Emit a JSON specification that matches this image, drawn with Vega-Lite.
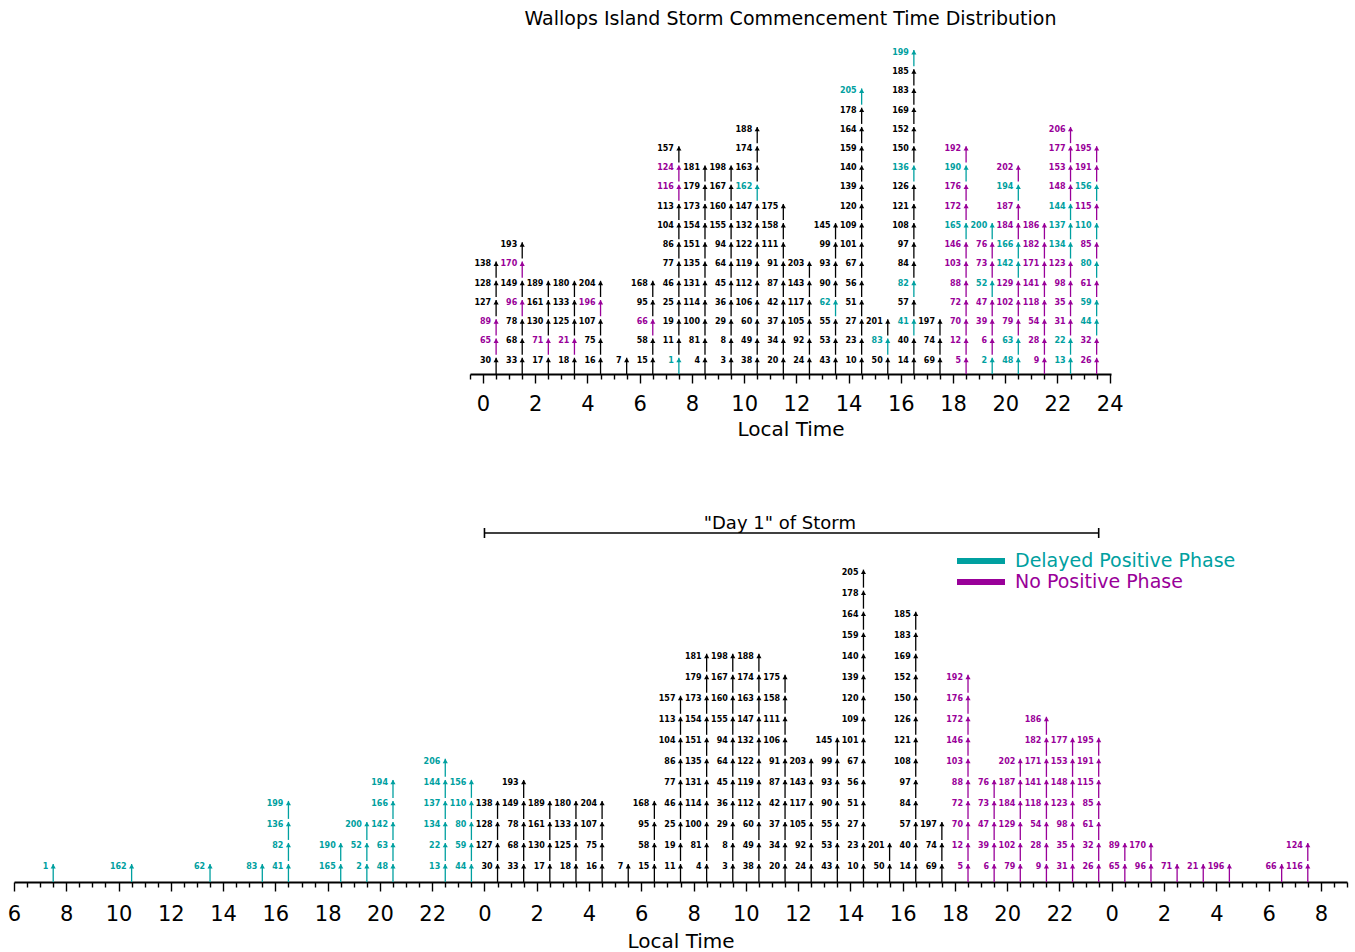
{
  "$schema": "https://vega.github.io/schema/vega-lite/v6.json",
  "background": "white",
  "padding": {"left": 7, "top": 10, "right": 5, "bottom": 5},
  "bounds": "flush",
  "spacing": 486,
  "config": {
    "view": {"stroke": null},
    "font": "DejaVu Sans",
    "axis": {
      "grid": false,
      "domainColor": "#000000",
      "domainWidth": 1.8,
      "tickColor": "#000000",
      "tickWidth": 1.4,
      "labelFont": "DejaVu Sans",
      "labelFontSize": 21,
      "labelColor": "#000000",
      "labelOverlap": false,
      "labelFlush": false,
      "labelPadding": 10,
      "titleFont": "DejaVu Sans",
      "titleFontSize": 20,
      "titleFontWeight": "normal",
      "titleColor": "#000000",
      "titlePadding": 5
    }
  },
  "resolve": {"scale": {"color": "shared"}, "legend": {"color": "shared"}},
  "datasets": {
    "commencement": [
      {"storm": 30, "hour": 0.5, "phase": "Normal"}, {"storm": 65, "hour": 0.5, "phase": "No Positive Phase"}, {"storm": 89, "hour": 0.5, "phase": "No Positive Phase"}, {"storm": 127, "hour": 0.5, "phase": "Normal"}, {"storm": 128, "hour": 0.5, "phase": "Normal"}, {"storm": 138, "hour": 0.5, "phase": "Normal"},
      {"storm": 33, "hour": 1.5, "phase": "Normal"}, {"storm": 68, "hour": 1.5, "phase": "Normal"}, {"storm": 78, "hour": 1.5, "phase": "Normal"}, {"storm": 96, "hour": 1.5, "phase": "No Positive Phase"}, {"storm": 149, "hour": 1.5, "phase": "Normal"}, {"storm": 170, "hour": 1.5, "phase": "No Positive Phase"}, {"storm": 193, "hour": 1.5, "phase": "Normal"},
      {"storm": 17, "hour": 2.5, "phase": "Normal"}, {"storm": 71, "hour": 2.5, "phase": "No Positive Phase"}, {"storm": 130, "hour": 2.5, "phase": "Normal"}, {"storm": 161, "hour": 2.5, "phase": "Normal"}, {"storm": 189, "hour": 2.5, "phase": "Normal"},
      {"storm": 18, "hour": 3.5, "phase": "Normal"}, {"storm": 21, "hour": 3.5, "phase": "No Positive Phase"}, {"storm": 125, "hour": 3.5, "phase": "Normal"}, {"storm": 133, "hour": 3.5, "phase": "Normal"}, {"storm": 180, "hour": 3.5, "phase": "Normal"},
      {"storm": 16, "hour": 4.5, "phase": "Normal"}, {"storm": 75, "hour": 4.5, "phase": "Normal"}, {"storm": 107, "hour": 4.5, "phase": "Normal"}, {"storm": 196, "hour": 4.5, "phase": "No Positive Phase"}, {"storm": 204, "hour": 4.5, "phase": "Normal"},
      {"storm": 7, "hour": 5.5, "phase": "Normal"},
      {"storm": 15, "hour": 6.5, "phase": "Normal"}, {"storm": 58, "hour": 6.5, "phase": "Normal"}, {"storm": 66, "hour": 6.5, "phase": "No Positive Phase"}, {"storm": 95, "hour": 6.5, "phase": "Normal"}, {"storm": 168, "hour": 6.5, "phase": "Normal"},
      {"storm": 1, "hour": 7.5, "phase": "Delayed Positive Phase"}, {"storm": 11, "hour": 7.5, "phase": "Normal"}, {"storm": 19, "hour": 7.5, "phase": "Normal"}, {"storm": 25, "hour": 7.5, "phase": "Normal"}, {"storm": 46, "hour": 7.5, "phase": "Normal"}, {"storm": 77, "hour": 7.5, "phase": "Normal"}, {"storm": 86, "hour": 7.5, "phase": "Normal"}, {"storm": 104, "hour": 7.5, "phase": "Normal"}, {"storm": 113, "hour": 7.5, "phase": "Normal"}, {"storm": 116, "hour": 7.5, "phase": "No Positive Phase"}, {"storm": 124, "hour": 7.5, "phase": "No Positive Phase"}, {"storm": 157, "hour": 7.5, "phase": "Normal"},
      {"storm": 4, "hour": 8.5, "phase": "Normal"}, {"storm": 81, "hour": 8.5, "phase": "Normal"}, {"storm": 100, "hour": 8.5, "phase": "Normal"}, {"storm": 114, "hour": 8.5, "phase": "Normal"}, {"storm": 131, "hour": 8.5, "phase": "Normal"}, {"storm": 135, "hour": 8.5, "phase": "Normal"}, {"storm": 151, "hour": 8.5, "phase": "Normal"}, {"storm": 154, "hour": 8.5, "phase": "Normal"}, {"storm": 173, "hour": 8.5, "phase": "Normal"}, {"storm": 179, "hour": 8.5, "phase": "Normal"}, {"storm": 181, "hour": 8.5, "phase": "Normal"},
      {"storm": 3, "hour": 9.5, "phase": "Normal"}, {"storm": 8, "hour": 9.5, "phase": "Normal"}, {"storm": 29, "hour": 9.5, "phase": "Normal"}, {"storm": 36, "hour": 9.5, "phase": "Normal"}, {"storm": 45, "hour": 9.5, "phase": "Normal"}, {"storm": 64, "hour": 9.5, "phase": "Normal"}, {"storm": 94, "hour": 9.5, "phase": "Normal"}, {"storm": 155, "hour": 9.5, "phase": "Normal"}, {"storm": 160, "hour": 9.5, "phase": "Normal"}, {"storm": 167, "hour": 9.5, "phase": "Normal"}, {"storm": 198, "hour": 9.5, "phase": "Normal"},
      {"storm": 38, "hour": 10.5, "phase": "Normal"}, {"storm": 49, "hour": 10.5, "phase": "Normal"}, {"storm": 60, "hour": 10.5, "phase": "Normal"}, {"storm": 106, "hour": 10.5, "phase": "Normal"}, {"storm": 112, "hour": 10.5, "phase": "Normal"}, {"storm": 119, "hour": 10.5, "phase": "Normal"}, {"storm": 122, "hour": 10.5, "phase": "Normal"}, {"storm": 132, "hour": 10.5, "phase": "Normal"}, {"storm": 147, "hour": 10.5, "phase": "Normal"}, {"storm": 162, "hour": 10.5, "phase": "Delayed Positive Phase"}, {"storm": 163, "hour": 10.5, "phase": "Normal"}, {"storm": 174, "hour": 10.5, "phase": "Normal"}, {"storm": 188, "hour": 10.5, "phase": "Normal"},
      {"storm": 20, "hour": 11.5, "phase": "Normal"}, {"storm": 34, "hour": 11.5, "phase": "Normal"}, {"storm": 37, "hour": 11.5, "phase": "Normal"}, {"storm": 42, "hour": 11.5, "phase": "Normal"}, {"storm": 87, "hour": 11.5, "phase": "Normal"}, {"storm": 91, "hour": 11.5, "phase": "Normal"}, {"storm": 111, "hour": 11.5, "phase": "Normal"}, {"storm": 158, "hour": 11.5, "phase": "Normal"}, {"storm": 175, "hour": 11.5, "phase": "Normal"},
      {"storm": 24, "hour": 12.5, "phase": "Normal"}, {"storm": 92, "hour": 12.5, "phase": "Normal"}, {"storm": 105, "hour": 12.5, "phase": "Normal"}, {"storm": 117, "hour": 12.5, "phase": "Normal"}, {"storm": 143, "hour": 12.5, "phase": "Normal"}, {"storm": 203, "hour": 12.5, "phase": "Normal"},
      {"storm": 43, "hour": 13.5, "phase": "Normal"}, {"storm": 53, "hour": 13.5, "phase": "Normal"}, {"storm": 55, "hour": 13.5, "phase": "Normal"}, {"storm": 62, "hour": 13.5, "phase": "Delayed Positive Phase"}, {"storm": 90, "hour": 13.5, "phase": "Normal"}, {"storm": 93, "hour": 13.5, "phase": "Normal"}, {"storm": 99, "hour": 13.5, "phase": "Normal"}, {"storm": 145, "hour": 13.5, "phase": "Normal"},
      {"storm": 10, "hour": 14.5, "phase": "Normal"}, {"storm": 23, "hour": 14.5, "phase": "Normal"}, {"storm": 27, "hour": 14.5, "phase": "Normal"}, {"storm": 51, "hour": 14.5, "phase": "Normal"}, {"storm": 56, "hour": 14.5, "phase": "Normal"}, {"storm": 67, "hour": 14.5, "phase": "Normal"}, {"storm": 101, "hour": 14.5, "phase": "Normal"}, {"storm": 109, "hour": 14.5, "phase": "Normal"}, {"storm": 120, "hour": 14.5, "phase": "Normal"}, {"storm": 139, "hour": 14.5, "phase": "Normal"}, {"storm": 140, "hour": 14.5, "phase": "Normal"}, {"storm": 159, "hour": 14.5, "phase": "Normal"}, {"storm": 164, "hour": 14.5, "phase": "Normal"}, {"storm": 178, "hour": 14.5, "phase": "Normal"}, {"storm": 205, "hour": 14.5, "phase": "Delayed Positive Phase"},
      {"storm": 50, "hour": 15.5, "phase": "Normal"}, {"storm": 83, "hour": 15.5, "phase": "Delayed Positive Phase"}, {"storm": 201, "hour": 15.5, "phase": "Normal"},
      {"storm": 14, "hour": 16.5, "phase": "Normal"}, {"storm": 40, "hour": 16.5, "phase": "Normal"}, {"storm": 41, "hour": 16.5, "phase": "Delayed Positive Phase"}, {"storm": 57, "hour": 16.5, "phase": "Normal"}, {"storm": 82, "hour": 16.5, "phase": "Delayed Positive Phase"}, {"storm": 84, "hour": 16.5, "phase": "Normal"}, {"storm": 97, "hour": 16.5, "phase": "Normal"}, {"storm": 108, "hour": 16.5, "phase": "Normal"}, {"storm": 121, "hour": 16.5, "phase": "Normal"}, {"storm": 126, "hour": 16.5, "phase": "Normal"}, {"storm": 136, "hour": 16.5, "phase": "Delayed Positive Phase"}, {"storm": 150, "hour": 16.5, "phase": "Normal"}, {"storm": 152, "hour": 16.5, "phase": "Normal"}, {"storm": 169, "hour": 16.5, "phase": "Normal"}, {"storm": 183, "hour": 16.5, "phase": "Normal"}, {"storm": 185, "hour": 16.5, "phase": "Normal"}, {"storm": 199, "hour": 16.5, "phase": "Delayed Positive Phase"},
      {"storm": 69, "hour": 17.5, "phase": "Normal"}, {"storm": 74, "hour": 17.5, "phase": "Normal"}, {"storm": 197, "hour": 17.5, "phase": "Normal"},
      {"storm": 5, "hour": 18.5, "phase": "No Positive Phase"}, {"storm": 12, "hour": 18.5, "phase": "No Positive Phase"}, {"storm": 70, "hour": 18.5, "phase": "No Positive Phase"}, {"storm": 72, "hour": 18.5, "phase": "No Positive Phase"}, {"storm": 88, "hour": 18.5, "phase": "No Positive Phase"}, {"storm": 103, "hour": 18.5, "phase": "No Positive Phase"}, {"storm": 146, "hour": 18.5, "phase": "No Positive Phase"}, {"storm": 165, "hour": 18.5, "phase": "Delayed Positive Phase"}, {"storm": 172, "hour": 18.5, "phase": "No Positive Phase"}, {"storm": 176, "hour": 18.5, "phase": "No Positive Phase"}, {"storm": 190, "hour": 18.5, "phase": "Delayed Positive Phase"}, {"storm": 192, "hour": 18.5, "phase": "No Positive Phase"},
      {"storm": 2, "hour": 19.5, "phase": "Delayed Positive Phase"}, {"storm": 6, "hour": 19.5, "phase": "No Positive Phase"}, {"storm": 39, "hour": 19.5, "phase": "No Positive Phase"}, {"storm": 47, "hour": 19.5, "phase": "No Positive Phase"}, {"storm": 52, "hour": 19.5, "phase": "Delayed Positive Phase"}, {"storm": 73, "hour": 19.5, "phase": "No Positive Phase"}, {"storm": 76, "hour": 19.5, "phase": "No Positive Phase"}, {"storm": 200, "hour": 19.5, "phase": "Delayed Positive Phase"},
      {"storm": 48, "hour": 20.5, "phase": "Delayed Positive Phase"}, {"storm": 63, "hour": 20.5, "phase": "Delayed Positive Phase"}, {"storm": 79, "hour": 20.5, "phase": "No Positive Phase"}, {"storm": 102, "hour": 20.5, "phase": "No Positive Phase"}, {"storm": 129, "hour": 20.5, "phase": "No Positive Phase"}, {"storm": 142, "hour": 20.5, "phase": "Delayed Positive Phase"}, {"storm": 166, "hour": 20.5, "phase": "Delayed Positive Phase"}, {"storm": 184, "hour": 20.5, "phase": "No Positive Phase"}, {"storm": 187, "hour": 20.5, "phase": "No Positive Phase"}, {"storm": 194, "hour": 20.5, "phase": "Delayed Positive Phase"}, {"storm": 202, "hour": 20.5, "phase": "No Positive Phase"},
      {"storm": 9, "hour": 21.5, "phase": "No Positive Phase"}, {"storm": 28, "hour": 21.5, "phase": "No Positive Phase"}, {"storm": 54, "hour": 21.5, "phase": "No Positive Phase"}, {"storm": 118, "hour": 21.5, "phase": "No Positive Phase"}, {"storm": 141, "hour": 21.5, "phase": "No Positive Phase"}, {"storm": 171, "hour": 21.5, "phase": "No Positive Phase"}, {"storm": 182, "hour": 21.5, "phase": "No Positive Phase"}, {"storm": 186, "hour": 21.5, "phase": "No Positive Phase"},
      {"storm": 13, "hour": 22.5, "phase": "Delayed Positive Phase"}, {"storm": 22, "hour": 22.5, "phase": "Delayed Positive Phase"}, {"storm": 31, "hour": 22.5, "phase": "No Positive Phase"}, {"storm": 35, "hour": 22.5, "phase": "No Positive Phase"}, {"storm": 98, "hour": 22.5, "phase": "No Positive Phase"}, {"storm": 123, "hour": 22.5, "phase": "No Positive Phase"}, {"storm": 134, "hour": 22.5, "phase": "Delayed Positive Phase"}, {"storm": 137, "hour": 22.5, "phase": "Delayed Positive Phase"}, {"storm": 144, "hour": 22.5, "phase": "Delayed Positive Phase"}, {"storm": 148, "hour": 22.5, "phase": "No Positive Phase"}, {"storm": 153, "hour": 22.5, "phase": "No Positive Phase"}, {"storm": 177, "hour": 22.5, "phase": "No Positive Phase"}, {"storm": 206, "hour": 22.5, "phase": "No Positive Phase"},
      {"storm": 26, "hour": 23.5, "phase": "No Positive Phase"}, {"storm": 32, "hour": 23.5, "phase": "No Positive Phase"}, {"storm": 44, "hour": 23.5, "phase": "Delayed Positive Phase"}, {"storm": 59, "hour": 23.5, "phase": "Delayed Positive Phase"}, {"storm": 61, "hour": 23.5, "phase": "No Positive Phase"}, {"storm": 80, "hour": 23.5, "phase": "Delayed Positive Phase"}, {"storm": 85, "hour": 23.5, "phase": "No Positive Phase"}, {"storm": 110, "hour": 23.5, "phase": "Delayed Positive Phase"}, {"storm": 115, "hour": 23.5, "phase": "No Positive Phase"}, {"storm": 156, "hour": 23.5, "phase": "Delayed Positive Phase"}, {"storm": 191, "hour": 23.5, "phase": "No Positive Phase"}, {"storm": 195, "hour": 23.5, "phase": "No Positive Phase"}
    ],
    "day1": [
      {"storm": 1, "time": -16.5, "phase": "Delayed Positive Phase"},
      {"storm": 162, "time": -13.5, "phase": "Delayed Positive Phase"},
      {"storm": 62, "time": -10.5, "phase": "Delayed Positive Phase"},
      {"storm": 83, "time": -8.5, "phase": "Delayed Positive Phase"},
      {"storm": 41, "time": -7.5, "phase": "Delayed Positive Phase"}, {"storm": 82, "time": -7.5, "phase": "Delayed Positive Phase"}, {"storm": 136, "time": -7.5, "phase": "Delayed Positive Phase"}, {"storm": 199, "time": -7.5, "phase": "Delayed Positive Phase"},
      {"storm": 165, "time": -5.5, "phase": "Delayed Positive Phase"}, {"storm": 190, "time": -5.5, "phase": "Delayed Positive Phase"},
      {"storm": 2, "time": -4.5, "phase": "Delayed Positive Phase"}, {"storm": 52, "time": -4.5, "phase": "Delayed Positive Phase"}, {"storm": 200, "time": -4.5, "phase": "Delayed Positive Phase"},
      {"storm": 48, "time": -3.5, "phase": "Delayed Positive Phase"}, {"storm": 63, "time": -3.5, "phase": "Delayed Positive Phase"}, {"storm": 142, "time": -3.5, "phase": "Delayed Positive Phase"}, {"storm": 166, "time": -3.5, "phase": "Delayed Positive Phase"}, {"storm": 194, "time": -3.5, "phase": "Delayed Positive Phase"},
      {"storm": 13, "time": -1.5, "phase": "Delayed Positive Phase"}, {"storm": 22, "time": -1.5, "phase": "Delayed Positive Phase"}, {"storm": 134, "time": -1.5, "phase": "Delayed Positive Phase"}, {"storm": 137, "time": -1.5, "phase": "Delayed Positive Phase"}, {"storm": 144, "time": -1.5, "phase": "Delayed Positive Phase"}, {"storm": 206, "time": -1.5, "phase": "Delayed Positive Phase"},
      {"storm": 44, "time": -0.5, "phase": "Delayed Positive Phase"}, {"storm": 59, "time": -0.5, "phase": "Delayed Positive Phase"}, {"storm": 80, "time": -0.5, "phase": "Delayed Positive Phase"}, {"storm": 110, "time": -0.5, "phase": "Delayed Positive Phase"}, {"storm": 156, "time": -0.5, "phase": "Delayed Positive Phase"},
      {"storm": 30, "time": 0.5, "phase": "Normal"}, {"storm": 127, "time": 0.5, "phase": "Normal"}, {"storm": 128, "time": 0.5, "phase": "Normal"}, {"storm": 138, "time": 0.5, "phase": "Normal"},
      {"storm": 33, "time": 1.5, "phase": "Normal"}, {"storm": 68, "time": 1.5, "phase": "Normal"}, {"storm": 78, "time": 1.5, "phase": "Normal"}, {"storm": 149, "time": 1.5, "phase": "Normal"}, {"storm": 193, "time": 1.5, "phase": "Normal"},
      {"storm": 17, "time": 2.5, "phase": "Normal"}, {"storm": 130, "time": 2.5, "phase": "Normal"}, {"storm": 161, "time": 2.5, "phase": "Normal"}, {"storm": 189, "time": 2.5, "phase": "Normal"},
      {"storm": 18, "time": 3.5, "phase": "Normal"}, {"storm": 125, "time": 3.5, "phase": "Normal"}, {"storm": 133, "time": 3.5, "phase": "Normal"}, {"storm": 180, "time": 3.5, "phase": "Normal"},
      {"storm": 16, "time": 4.5, "phase": "Normal"}, {"storm": 75, "time": 4.5, "phase": "Normal"}, {"storm": 107, "time": 4.5, "phase": "Normal"}, {"storm": 204, "time": 4.5, "phase": "Normal"},
      {"storm": 7, "time": 5.5, "phase": "Normal"},
      {"storm": 15, "time": 6.5, "phase": "Normal"}, {"storm": 58, "time": 6.5, "phase": "Normal"}, {"storm": 95, "time": 6.5, "phase": "Normal"}, {"storm": 168, "time": 6.5, "phase": "Normal"},
      {"storm": 11, "time": 7.5, "phase": "Normal"}, {"storm": 19, "time": 7.5, "phase": "Normal"}, {"storm": 25, "time": 7.5, "phase": "Normal"}, {"storm": 46, "time": 7.5, "phase": "Normal"}, {"storm": 77, "time": 7.5, "phase": "Normal"}, {"storm": 86, "time": 7.5, "phase": "Normal"}, {"storm": 104, "time": 7.5, "phase": "Normal"}, {"storm": 113, "time": 7.5, "phase": "Normal"}, {"storm": 157, "time": 7.5, "phase": "Normal"},
      {"storm": 4, "time": 8.5, "phase": "Normal"}, {"storm": 81, "time": 8.5, "phase": "Normal"}, {"storm": 100, "time": 8.5, "phase": "Normal"}, {"storm": 114, "time": 8.5, "phase": "Normal"}, {"storm": 131, "time": 8.5, "phase": "Normal"}, {"storm": 135, "time": 8.5, "phase": "Normal"}, {"storm": 151, "time": 8.5, "phase": "Normal"}, {"storm": 154, "time": 8.5, "phase": "Normal"}, {"storm": 173, "time": 8.5, "phase": "Normal"}, {"storm": 179, "time": 8.5, "phase": "Normal"}, {"storm": 181, "time": 8.5, "phase": "Normal"},
      {"storm": 3, "time": 9.5, "phase": "Normal"}, {"storm": 8, "time": 9.5, "phase": "Normal"}, {"storm": 29, "time": 9.5, "phase": "Normal"}, {"storm": 36, "time": 9.5, "phase": "Normal"}, {"storm": 45, "time": 9.5, "phase": "Normal"}, {"storm": 64, "time": 9.5, "phase": "Normal"}, {"storm": 94, "time": 9.5, "phase": "Normal"}, {"storm": 155, "time": 9.5, "phase": "Normal"}, {"storm": 160, "time": 9.5, "phase": "Normal"}, {"storm": 167, "time": 9.5, "phase": "Normal"}, {"storm": 198, "time": 9.5, "phase": "Normal"},
      {"storm": 38, "time": 10.5, "phase": "Normal"}, {"storm": 49, "time": 10.5, "phase": "Normal"}, {"storm": 60, "time": 10.5, "phase": "Normal"}, {"storm": 112, "time": 10.5, "phase": "Normal"}, {"storm": 119, "time": 10.5, "phase": "Normal"}, {"storm": 122, "time": 10.5, "phase": "Normal"}, {"storm": 132, "time": 10.5, "phase": "Normal"}, {"storm": 147, "time": 10.5, "phase": "Normal"}, {"storm": 163, "time": 10.5, "phase": "Normal"}, {"storm": 174, "time": 10.5, "phase": "Normal"}, {"storm": 188, "time": 10.5, "phase": "Normal"},
      {"storm": 20, "time": 11.5, "phase": "Normal"}, {"storm": 34, "time": 11.5, "phase": "Normal"}, {"storm": 37, "time": 11.5, "phase": "Normal"}, {"storm": 42, "time": 11.5, "phase": "Normal"}, {"storm": 87, "time": 11.5, "phase": "Normal"}, {"storm": 91, "time": 11.5, "phase": "Normal"}, {"storm": 106, "time": 11.5, "phase": "Normal"}, {"storm": 111, "time": 11.5, "phase": "Normal"}, {"storm": 158, "time": 11.5, "phase": "Normal"}, {"storm": 175, "time": 11.5, "phase": "Normal"},
      {"storm": 24, "time": 12.5, "phase": "Normal"}, {"storm": 92, "time": 12.5, "phase": "Normal"}, {"storm": 105, "time": 12.5, "phase": "Normal"}, {"storm": 117, "time": 12.5, "phase": "Normal"}, {"storm": 143, "time": 12.5, "phase": "Normal"}, {"storm": 203, "time": 12.5, "phase": "Normal"},
      {"storm": 43, "time": 13.5, "phase": "Normal"}, {"storm": 53, "time": 13.5, "phase": "Normal"}, {"storm": 55, "time": 13.5, "phase": "Normal"}, {"storm": 90, "time": 13.5, "phase": "Normal"}, {"storm": 93, "time": 13.5, "phase": "Normal"}, {"storm": 99, "time": 13.5, "phase": "Normal"}, {"storm": 145, "time": 13.5, "phase": "Normal"},
      {"storm": 10, "time": 14.5, "phase": "Normal"}, {"storm": 23, "time": 14.5, "phase": "Normal"}, {"storm": 27, "time": 14.5, "phase": "Normal"}, {"storm": 51, "time": 14.5, "phase": "Normal"}, {"storm": 56, "time": 14.5, "phase": "Normal"}, {"storm": 67, "time": 14.5, "phase": "Normal"}, {"storm": 101, "time": 14.5, "phase": "Normal"}, {"storm": 109, "time": 14.5, "phase": "Normal"}, {"storm": 120, "time": 14.5, "phase": "Normal"}, {"storm": 139, "time": 14.5, "phase": "Normal"}, {"storm": 140, "time": 14.5, "phase": "Normal"}, {"storm": 159, "time": 14.5, "phase": "Normal"}, {"storm": 164, "time": 14.5, "phase": "Normal"}, {"storm": 178, "time": 14.5, "phase": "Normal"}, {"storm": 205, "time": 14.5, "phase": "Normal"},
      {"storm": 50, "time": 15.5, "phase": "Normal"}, {"storm": 201, "time": 15.5, "phase": "Normal"},
      {"storm": 14, "time": 16.5, "phase": "Normal"}, {"storm": 40, "time": 16.5, "phase": "Normal"}, {"storm": 57, "time": 16.5, "phase": "Normal"}, {"storm": 84, "time": 16.5, "phase": "Normal"}, {"storm": 97, "time": 16.5, "phase": "Normal"}, {"storm": 108, "time": 16.5, "phase": "Normal"}, {"storm": 121, "time": 16.5, "phase": "Normal"}, {"storm": 126, "time": 16.5, "phase": "Normal"}, {"storm": 150, "time": 16.5, "phase": "Normal"}, {"storm": 152, "time": 16.5, "phase": "Normal"}, {"storm": 169, "time": 16.5, "phase": "Normal"}, {"storm": 183, "time": 16.5, "phase": "Normal"}, {"storm": 185, "time": 16.5, "phase": "Normal"},
      {"storm": 69, "time": 17.5, "phase": "Normal"}, {"storm": 74, "time": 17.5, "phase": "Normal"}, {"storm": 197, "time": 17.5, "phase": "Normal"},
      {"storm": 5, "time": 18.5, "phase": "No Positive Phase"}, {"storm": 12, "time": 18.5, "phase": "No Positive Phase"}, {"storm": 70, "time": 18.5, "phase": "No Positive Phase"}, {"storm": 72, "time": 18.5, "phase": "No Positive Phase"}, {"storm": 88, "time": 18.5, "phase": "No Positive Phase"}, {"storm": 103, "time": 18.5, "phase": "No Positive Phase"}, {"storm": 146, "time": 18.5, "phase": "No Positive Phase"}, {"storm": 172, "time": 18.5, "phase": "No Positive Phase"}, {"storm": 176, "time": 18.5, "phase": "No Positive Phase"}, {"storm": 192, "time": 18.5, "phase": "No Positive Phase"},
      {"storm": 6, "time": 19.5, "phase": "No Positive Phase"}, {"storm": 39, "time": 19.5, "phase": "No Positive Phase"}, {"storm": 47, "time": 19.5, "phase": "No Positive Phase"}, {"storm": 73, "time": 19.5, "phase": "No Positive Phase"}, {"storm": 76, "time": 19.5, "phase": "No Positive Phase"},
      {"storm": 79, "time": 20.5, "phase": "No Positive Phase"}, {"storm": 102, "time": 20.5, "phase": "No Positive Phase"}, {"storm": 129, "time": 20.5, "phase": "No Positive Phase"}, {"storm": 184, "time": 20.5, "phase": "No Positive Phase"}, {"storm": 187, "time": 20.5, "phase": "No Positive Phase"}, {"storm": 202, "time": 20.5, "phase": "No Positive Phase"},
      {"storm": 9, "time": 21.5, "phase": "No Positive Phase"}, {"storm": 28, "time": 21.5, "phase": "No Positive Phase"}, {"storm": 54, "time": 21.5, "phase": "No Positive Phase"}, {"storm": 118, "time": 21.5, "phase": "No Positive Phase"}, {"storm": 141, "time": 21.5, "phase": "No Positive Phase"}, {"storm": 171, "time": 21.5, "phase": "No Positive Phase"}, {"storm": 182, "time": 21.5, "phase": "No Positive Phase"}, {"storm": 186, "time": 21.5, "phase": "No Positive Phase"},
      {"storm": 31, "time": 22.5, "phase": "No Positive Phase"}, {"storm": 35, "time": 22.5, "phase": "No Positive Phase"}, {"storm": 98, "time": 22.5, "phase": "No Positive Phase"}, {"storm": 123, "time": 22.5, "phase": "No Positive Phase"}, {"storm": 148, "time": 22.5, "phase": "No Positive Phase"}, {"storm": 153, "time": 22.5, "phase": "No Positive Phase"}, {"storm": 177, "time": 22.5, "phase": "No Positive Phase"},
      {"storm": 26, "time": 23.5, "phase": "No Positive Phase"}, {"storm": 32, "time": 23.5, "phase": "No Positive Phase"}, {"storm": 61, "time": 23.5, "phase": "No Positive Phase"}, {"storm": 85, "time": 23.5, "phase": "No Positive Phase"}, {"storm": 115, "time": 23.5, "phase": "No Positive Phase"}, {"storm": 191, "time": 23.5, "phase": "No Positive Phase"}, {"storm": 195, "time": 23.5, "phase": "No Positive Phase"},
      {"storm": 65, "time": 24.5, "phase": "No Positive Phase"}, {"storm": 89, "time": 24.5, "phase": "No Positive Phase"},
      {"storm": 96, "time": 25.5, "phase": "No Positive Phase"}, {"storm": 170, "time": 25.5, "phase": "No Positive Phase"},
      {"storm": 71, "time": 26.5, "phase": "No Positive Phase"},
      {"storm": 21, "time": 27.5, "phase": "No Positive Phase"},
      {"storm": 196, "time": 28.5, "phase": "No Positive Phase"},
      {"storm": 66, "time": 30.5, "phase": "No Positive Phase"},
      {"storm": 116, "time": 31.5, "phase": "No Positive Phase"}, {"storm": 124, "time": 31.5, "phase": "No Positive Phase"}
    ],
    "stormDay": [
      {"label": "\"Day 1\" of Storm", "start": 0, "end": 23.5}
    ]
  },
  "vconcat": [
    {
      "bounds": "flush",
      "spacing": 0,
      "hconcat": [
        {
          "width": 456,
          "height": 327,
          "data": {"values": [{}]},
          "mark": {"type": "point", "opacity": 0},
          "encoding": {}
        },
        {
          "width": 641,
          "height": 327,
          "title": {
            "text": "Wallops Island Storm Commencement Time Distribution",
            "font": "DejaVu Sans",
            "fontSize": 19,
            "fontWeight": "normal",
            "color": "#000000",
            "anchor": "middle",
            "offset": 18
          },
          "data": {"name": "commencement"},
          "transform": [
            {"window": [{"op": "row_number", "as": "level"}], "groupby": ["hour"], "sort": [{"field": "storm", "order": "ascending"}]}
          ],
          "encoding": {
            "x": {
              "field": "hour",
              "type": "quantitative",
              "scale": {"domain": [-0.5, 24.05], "nice": false, "zero": false},
              "axis": {
                "title": "Local Time",
                "tickCount": 49,
                "labelExpr": "datum.value % 2 === 0 ? '' + datum.value : ''",
                "tickSize": {"condition": {"test": "datum.value % 2 === 0", "value": 9}, "value": 5}
              }
            },
            "y": {"field": "level", "type": "quantitative", "scale": {"domain": [0, 17], "nice": false, "zero": false}, "axis": null},
            "color": {
              "field": "phase",
              "type": "nominal",
              "scale": {"domain": ["Normal", "Delayed Positive Phase", "No Positive Phase"], "range": ["#000000", "#00a0a0", "#990099"]}
            }
          },
          "layer": [
            {"mark": {"type": "rule", "strokeWidth": 1.3, "yOffset": 3, "y2Offset": 19.2}, "encoding": {"y2": {"field": "level"}}},
            {"mark": {"type": "point", "shape": "triangle-up", "filled": true, "opacity": 1, "size": 26, "yOffset": 5.2}},
            {"mark": {"type": "text", "align": "right", "baseline": "middle", "dx": -5, "yOffset": 5.8, "font": "DejaVu Sans", "fontSize": 8, "fontWeight": "bold"}, "encoding": {"text": {"field": "storm", "type": "quantitative"}}}
          ]
        }
      ]
    },
    {
      "width": 1333,
      "height": 349,
      "layer": [
        {
          "data": {"name": "day1"},
          "transform": [
            {"window": [{"op": "row_number", "as": "level"}], "groupby": ["time"], "sort": [{"field": "storm", "order": "ascending"}]}
          ],
          "encoding": {
            "x": {
              "field": "time",
              "type": "quantitative",
              "scale": {"domain": [-18, 33], "nice": false, "zero": false},
              "axis": {
                "title": "Local Time",
                "tickCount": 102,
                "labelPadding": 12,
                "titlePadding": 7,
                "labelExpr": "datum.value % 2 === 0 ? '' + ((datum.value % 24 + 24) % 24) : ''",
                "tickSize": {"condition": {"test": "datum.value % 2 === 0", "value": 9}, "value": 5}
              }
            },
            "y": {"field": "level", "type": "quantitative", "scale": {"domain": [0, 16.6], "nice": false, "zero": false}, "axis": null},
            "color": {
              "field": "phase",
              "type": "nominal",
              "scale": {"domain": ["Normal", "Delayed Positive Phase", "No Positive Phase"], "range": ["#000000", "#00a0a0", "#990099"]},
              "legend": {
                "title": null,
                "values": ["Delayed Positive Phase", "No Positive Phase"],
                "orient": "none",
                "legendX": 957,
                "legendY": 504,
                "padding": 0,
                "symbolType": "M-2.4,-0.3H2.4V0.3H-2.4Z",
                "symbolSize": 400,
                "symbolStrokeWidth": 0,
                "labelFont": "DejaVu Sans",
                "labelFontSize": 19,
                "labelOffset": 24,
                "labelLimit": 500,
                "rowPadding": 1,
                "encode": {
                  "symbols": {"update": {"fill": {"scale": "color", "field": "value"}, "stroke": {"value": "transparent"}, "opacity": {"value": 1}}},
                  "labels": {"update": {"fill": {"scale": "color", "field": "value"}}}
                }
              }
            }
          },
          "layer": [
            {"mark": {"type": "rule", "strokeWidth": 1.3, "yOffset": 3, "y2Offset": 21}, "encoding": {"y2": {"field": "level"}}},
            {"mark": {"type": "point", "shape": "triangle-up", "filled": true, "opacity": 1, "size": 26, "yOffset": 5.2}},
            {"mark": {"type": "text", "align": "right", "baseline": "middle", "dx": -5, "yOffset": 6.3, "font": "DejaVu Sans", "fontSize": 8, "fontWeight": "bold"}, "encoding": {"text": {"field": "storm", "type": "quantitative"}}}
          ]
        },
        {
          "data": {"name": "stormDay"},
          "layer": [
            {
              "mark": {"type": "rule", "strokeWidth": 1.6, "color": "#000000"},
              "encoding": {
                "x": {"field": "start", "type": "quantitative"},
                "x2": {"field": "end"},
                "y": {"datum": 16.6, "type": "quantitative", "axis": null}
              }
            },
            {
              "mark": {"type": "rule", "strokeWidth": 1.6, "color": "#000000", "yOffset": -5, "y2Offset": 5},
              "encoding": {
                "x": {"field": "start", "type": "quantitative"},
                "y": {"datum": 16.6, "type": "quantitative", "axis": null},
                "y2": {"datum": 16.6}
              }
            },
            {
              "mark": {"type": "rule", "strokeWidth": 1.6, "color": "#000000", "yOffset": -5, "y2Offset": 5},
              "encoding": {
                "x": {"field": "end", "type": "quantitative"},
                "y": {"datum": 16.6, "type": "quantitative", "axis": null},
                "y2": {"datum": 16.6}
              }
            },
            {
              "mark": {"type": "text", "font": "DejaVu Sans", "fontSize": 18, "align": "center", "baseline": "middle", "yOffset": -9, "color": "#000000"},
              "encoding": {
                "x": {"datum": 11.3, "type": "quantitative"},
                "y": {"datum": 16.6, "type": "quantitative", "axis": null},
                "text": {"field": "label"}
              }
            }
          ]
        }
      ]
    }
  ]
}
